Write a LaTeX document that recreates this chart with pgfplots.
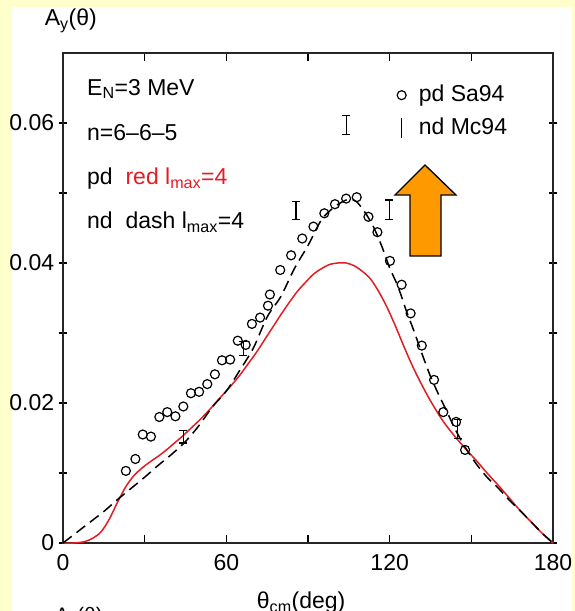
\documentclass[border=0pt]{standalone}
\usepackage{pgfplots}
\pgfplotsset{compat=1.18}
\usepackage{fontspec}
\setmainfont{Liberation Sans}
\definecolor{bgyellow}{RGB}{255,255,204}
\definecolor{arroworange}{RGB}{255,153,0}
\definecolor{curvered}{RGB}{228,28,36}

\begin{document}
\fontsize{23}{27}\selectfont
\begin{tikzpicture}[x=1pt,y=1pt]
% slide background (image: 1px = 1pt, axis box lower left at origin)
\fill[bgyellow] (-63,-68) rectangle (512,543);
\fill[white] (-51,-90) rectangle (509,536);
\begin{axis}[
  at={(0,0)}, anchor=south west,
  scale only axis, width=490pt, height=490pt,
  xmin=0, xmax=180, ymin=0, ymax=0.07,
  xtick={0,60,120,180}, minor xtick={30,90,150},
  ytick={0,0.02,0.04,0.06}, minor ytick={0.01,0.03,0.05},
  yticklabels={0,0.02,0.04,0.06},
  scaled y ticks=false,
  /pgf/number format/assume math mode=true,
  xtick align=inside, ytick align=center,
  major tick length=8pt, minor tick length=8pt,
  every tick/.style={black, line width=1.1pt},
  axis line style={line width=1.3pt, black!85},
  xticklabel style={yshift=-4pt},
  yticklabel style={xshift=3pt},
  ylabel={A\textsubscript{y}(θ)},
  ylabel style={rotate=-90, at={(rel axis cs:0.016,1.065)}, anchor=center},
  xlabel={θ\textsubscript{cm}(deg)},
  xlabel style={at={(rel axis cs:0.486,-0.1)}, anchor=north, inner sep=0pt},
  legend style={at={(rel axis cs:0.674,0.943)}, anchor=north west,
    draw=none, fill=none, row sep=9pt, cells={anchor=west}},
  legend cell align=left,
]
% pd, red curve
\addplot[curvered, line width=1.5pt, smooth, forget plot] coordinates {
(0,0) (4,0.0000) (8,0.0002) (11,0.0007) (14,0.0016) (17,0.0034) (20,0.0058)
(23,0.0080) (26,0.0096) (29,0.0107) (32,0.0116) (35,0.0124) (38,0.0133)
(41,0.0143) (44,0.0153) (47,0.0164) (50,0.0175) (53,0.0187) (56,0.0200)
(59,0.0213) (62,0.0226) (65,0.0240) (68,0.0256) (71,0.0272) (74,0.0290)
(77,0.0308) (80,0.0326) (83,0.0343) (86,0.0359) (89,0.0372) (92,0.0384)
(95,0.0392) (98,0.0398) (101,0.0400) (104,0.0400) (107,0.0396) (110,0.0388)
(113,0.0377) (116,0.0359) (119,0.0337) (122,0.0311) (125,0.0283) (128,0.0256)
(131,0.0232) (134,0.0210) (137,0.0190) (140,0.0172) (144,0.0152) (148,0.0134)
(152,0.0117) (156,0.0099) (160,0.0082) (164,0.0064) (168,0.0046) (172,0.0030)
(176,0.0014) (180,0)
};
% nd, dashed curve
\addplot[black, line width=1.5pt, dash pattern=on 11pt off 6pt, smooth, forget plot] coordinates {
(0,0) (5,0.0015) (10,0.0030) (15,0.0045) (20,0.0062) (25,0.0078) (30,0.0094)
(35,0.0111) (40,0.0127) (45,0.0145) (50,0.0168) (55,0.0195) (60,0.0217)
(65,0.0247) (70,0.0279) (75,0.0323) (80,0.0352) (85,0.0392) (90,0.0425)
(95,0.0462) (100,0.0481) (104,0.0490) (106,0.0491) (108,0.0487) (111,0.0472)
(114,0.0452) (117,0.0425) (120,0.0393) (123,0.0367) (126,0.0333) (129,0.0302)
(132,0.0269) (135,0.0238) (138,0.0212) (141,0.0188) (144,0.0163) (148,0.0135)
(152,0.0112) (156,0.0093) (160,0.0078) (164,0.0061) (168,0.0046) (172,0.0030)
(176,0.0014) (180,0)
};
% pd Sa94 data
\addplot[only marks, mark=o, mark size=4.5pt, mark options={line width=1.2pt, black},
  legend image code/.code={\draw[black, line width=1.2pt] (0pt,0pt) circle (4.5pt); \path (-5pt,0pt) (15pt,0pt);}] coordinates {
(23.1,0.0103) (26.6,0.0120) (29.3,0.0155) (32.3,0.0152) (35.4,0.0180)
(38.3,0.0187) (41.3,0.0181) (44.2,0.0195) (47.0,0.0214) (50.0,0.0216)
(53.0,0.0227) (55.8,0.0241) (58.4,0.0261) (61.4,0.0262) (64.2,0.0289)
(67.1,0.0283) (69.4,0.0313) (72.4,0.0322) (75.3,0.0339) (76.0,0.0355)
(79.8,0.0390) (83.8,0.0411) (87.9,0.0435) (92.0,0.0452) (96.0,0.0471)
(99.9,0.0484) (104.0,0.0492) (107.9,0.0494) (112.2,0.0466) (115.5,0.0444)
(120.1,0.0403) (124.4,0.0369) (127.7,0.0328) (131.8,0.0282) (136.3,0.0233)
(139.7,0.0187) (144.4,0.0173) (147.7,0.0133)
};
\addlegendentry{pd Sa94}
% nd Mc94 data
\addplot[draw=none, mark=none,
  legend image code/.code={\draw[black, line width=1.2pt] (0pt,-10pt) -- (0pt,10pt); \path (-5pt,0pt) (15pt,0pt);},
  error bars/.cd, y dir=both, y explicit,
  error bar style={draw=black, line width=1.2pt},
  error mark options={draw=black, line width=1.2pt, mark size=4pt, rotate=90}] coordinates {
(44.2,0.0152) +- (0,0.0009)
(66.2,0.0278) +- (0,0.0010)
(85.6,0.0475) +- (0,0.0013)
(104.0,0.0597) +- (0,0.0014)
(119.9,0.0476) +- (0,0.0014)
(145.0,0.0163) +- (0,0.0014)
};
\addlegendentry{nd Mc94}
\node[anchor=base west, inner sep=0pt] at (rel axis cs:0.049,0.914) {E\textsubscript{N}=3 MeV};
\node[anchor=base west, inner sep=0pt] at (rel axis cs:0.049,0.822) {n=6–6–5};
\node[anchor=base west, inner sep=0pt] at (rel axis cs:0.049,0.731) {pd\ \ \textcolor{curvered}{red l\textsubscript{max}=4}};
\node[anchor=base west, inner sep=0pt] at (rel axis cs:0.049,0.641) {nd\ \ dash l\textsubscript{max}=4};
\end{axis}
% orange arrow
\draw[black, line width=1.3pt, fill=arroworange]
  (362,378) -- (393,348) -- (378,348) -- (378,287) -- (347,287) -- (347,348) -- (332,348) -- cycle;
% next panel's label, cut by the page edge
\node[anchor=north, inner sep=0pt] at (16,-64) {\fontsize{21}{25}\selectfont A\textsubscript{y}(θ)};
\pgfresetboundingbox
\useasboundingbox (-63,-68) rectangle (512,543);
\end{tikzpicture}
\end{document}
